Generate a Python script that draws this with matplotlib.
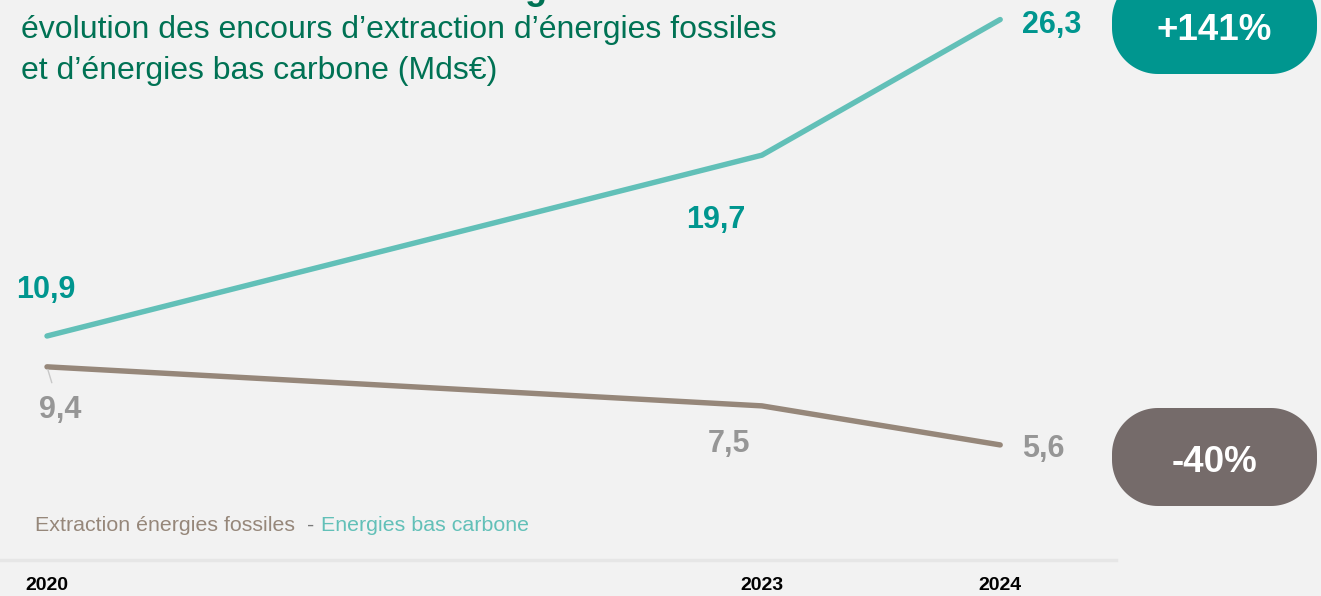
import matplotlib
matplotlib.use("Agg")
import numpy as np
import matplotlib.pyplot as plt
from matplotlib.patches import Polygon
from matplotlib.transforms import IdentityTransform

plt.rcParams['font.family'] = ['Liberation Sans', 'DejaVu Sans']

# data
years = [2020, 2023, 2024]
year_labels = ['2020', '2023', '2024']
bas_carbone = [10.9, 19.7, 26.3]
fossiles = [9.4, 7.5, 5.6]
change_bas_carbone = '+141%'
change_fossiles = '-40%'
title_lines = ["évolution des encours d’extraction d’énergies fossiles",
               "et d’énergies bas carbone (Mds€)"]
legend_fossiles = 'Extraction énergies fossiles'
legend_bas_carbone = 'Energies bas carbone'

BG = '#f2f2f2'
TEAL_LINE = '#62c0b8'
TEAL_TXT = '#00968f'
BROWN_LINE = '#96877a'
GREY_TXT = '#969696'
BOX_GREY = '#756b6a'
GREEN = '#007254'

W, H = 1321, 596
fig = plt.figure(figsize=(W / 100, H / 100), dpi=100, facecolor=BG)


def fx(px):
    return px / W


def fy(py):
    return 1 - py / H


# axes: y=0 on pixel row 560, left edge at pixel 0, right at 1116
ax = fig.add_axes([0, 36 / H, 1116 / W, 560 / H])
ax.set_facecolor(BG)
ax.set_xlim(2020 - 47 / 238.3, 2020 + (1116 - 47) / 238.3)
ax.set_ylim(0, 560 / 20.55)
for s in ['top', 'left', 'right']:
    ax.spines[s].set_visible(False)
ax.spines['bottom'].set_color('#e6e6e6')
ax.spines['bottom'].set_linewidth(2.5)
ax.set_yticks([])
ax.set_xticks(years)
ax.set_xticklabels(year_labels, fontsize=14, fontweight='bold', color='black')
ax.tick_params(axis='x', length=0, pad=12)

ax.plot(years, bas_carbone, color=TEAL_LINE, lw=3.9, solid_capstyle='round',
        solid_joinstyle='round', clip_on=False)
ax.plot(years, fossiles, color=BROWN_LINE, lw=3.9, solid_capstyle='round',
        solid_joinstyle='round', clip_on=False)


def fmt(v):
    return f"{v:.1f}".replace('.', ',')


teal_off = [(-1, 38), (-46, -73), (51, -13)]
for x, v, (dx, dy) in zip(years, bas_carbone, teal_off):
    ax.annotate(fmt(v), xy=(x, v), xytext=(dx, dy), textcoords='offset pixels',
                ha='center', va='baseline', fontsize=22, fontweight='bold',
                color=TEAL_TXT)

brown_off = [(13, -51), (-33, -46), (43, -12)]
for i, (x, v, (dx, dy)) in enumerate(zip(years, fossiles, brown_off)):
    props = None
    if i == 0:
        props = dict(arrowstyle='-', color='#c8c8c8', lw=1, shrinkA=7, shrinkB=2)
    ax.annotate(fmt(v), xy=(x, v), xytext=(dx, dy), textcoords='offset pixels',
                ha='center', va='baseline', fontsize=22, fontweight='bold',
                color=GREY_TXT, arrowprops=props)

# title (its first line is cut off in the source, only a descender shows)
fig.text(fx(536), fy(-1), 'g', ha='center', va='baseline', fontsize=26,
         fontweight='bold', color=GREEN)
fig.text(fx(21), fy(38), title_lines[0], ha='left', va='baseline',
         fontsize=23, color=GREEN)
fig.text(fx(21), fy(79), title_lines[1], ha='left', va='baseline',
         fontsize=23, color=GREEN)

# legend line
fig.text(fx(35), fy(531), legend_fossiles, ha='left', va='baseline',
         fontsize=15.4, color=BROWN_LINE)
fig.text(fx(307), fy(531), '-', ha='left', va='baseline',
         fontsize=15.4, color='#7a7a7a')
fig.text(fx(321), fy(531), legend_bas_carbone, ha='left', va='baseline',
         fontsize=15.4, color=TEAL_LINE)


# change boxes: rounded rectangles in pixels (y measured from the top)
def pill(x0, y0, x1, y1, color, label, ty, r=46):
    b0, b1 = H - y1, H - y0
    t = np.linspace(0, np.pi / 2, 30)
    pts = []
    for cx, cy, a in [(x1 - r, b1 - r, 0), (x0 + r, b1 - r, np.pi / 2),
                      (x0 + r, b0 + r, np.pi), (x1 - r, b0 + r, 1.5 * np.pi)]:
        pts += list(zip(cx + r * np.cos(t + a), cy + r * np.sin(t + a)))
    fig.patches.append(Polygon(pts, closed=True, transform=IdentityTransform(),
                               facecolor=color, edgecolor='none'))
    fig.text(fx((x0 + x1) / 2), fy(ty), label, ha='center', va='center',
             fontsize=26.5, fontweight='bold', color='white')


pill(1112, -26, 1317, 74, TEAL_TXT, change_bas_carbone, 30)
pill(1112, 408, 1317, 506, BOX_GREY, change_fossiles, 462)

fig.savefig('out.png', dpi=100, facecolor=BG)
